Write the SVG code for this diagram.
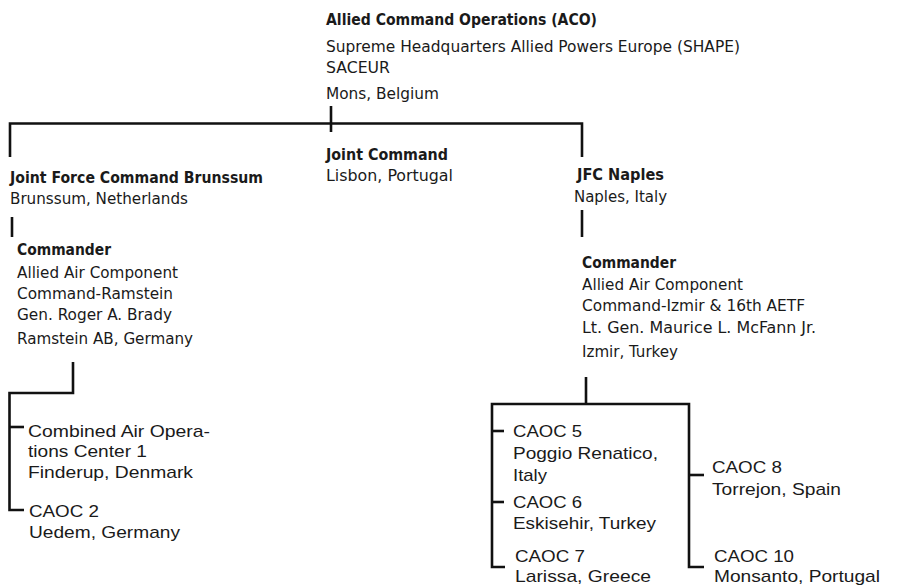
<svg xmlns="http://www.w3.org/2000/svg" width="910" height="585" viewBox="0 0 910 585">
<style>
  .c { font-family: "Liberation Sans Narrow", "DejaVu Sans Condensed", "Liberation Sans", sans-serif; font-size: 15px; fill: #1a1a1a; }
  .b { font-weight: bold; }
  .w { font-family: "Liberation Sans", Arial, sans-serif; font-size: 17px; fill: #1a1a1a; }
  .ln { fill: none; stroke: #111; stroke-width: 2.6; stroke-linecap: butt; stroke-linejoin: miter; }
</style>
<rect width="910" height="585" fill="#ffffff"/>
<g id="connectors" class="ln">
  <path d="M331 106 V132"/>
  <path d="M10 157 V123.5 H582 V157"/>
  <path d="M12 217 V237"/>
  <path d="M582 210 V237"/>
  <path d="M73 362 V393 H9.5 V510 H24"/>
  <path d="M9.5 427 H24"/>
  <path d="M586 377 V404"/>
  <path d="M505 567 H492 V404 H689 V567 H704"/>
  <path d="M492 431 H504"/>
  <path d="M492 502 H504"/>
  <path d="M689 475 H704"/>
</g>
<g id="aco">
  <text class="c b" x="326" y="25" textLength="271" lengthAdjust="spacingAndGlyphs">Allied Command Operations (ACO)</text>
  <text class="c" x="326" y="52" textLength="414" lengthAdjust="spacingAndGlyphs">Supreme Headquarters Allied Powers Europe (SHAPE)</text>
  <text class="c" x="326" y="73" textLength="64" lengthAdjust="spacingAndGlyphs">SACEUR</text>
  <text class="c" x="326" y="99" textLength="113" lengthAdjust="spacingAndGlyphs">Mons, Belgium</text>
</g>
<g id="jfc-brunssum">
  <text class="c b" x="10" y="183" textLength="253" lengthAdjust="spacingAndGlyphs">Joint Force Command Brunssum</text>
  <text class="c" x="10" y="204" textLength="178" lengthAdjust="spacingAndGlyphs">Brunssum, Netherlands</text>
</g>
<g id="joint-command">
  <text class="c b" x="326" y="160" textLength="122" lengthAdjust="spacingAndGlyphs">Joint Command</text>
  <text class="c" x="326" y="181" textLength="127" lengthAdjust="spacingAndGlyphs">Lisbon, Portugal</text>
</g>
<g id="jfc-naples">
  <text class="c b" x="577" y="180" textLength="87" lengthAdjust="spacingAndGlyphs">JFC Naples</text>
  <text class="c" x="574" y="202" textLength="93" lengthAdjust="spacingAndGlyphs">Naples, Italy</text>
</g>
<g id="commander-ramstein">
  <text class="c b" x="17" y="255" textLength="94" lengthAdjust="spacingAndGlyphs">Commander</text>
  <text class="c" x="17" y="278" textLength="161" lengthAdjust="spacingAndGlyphs">Allied Air Component</text>
  <text class="c" x="17" y="299" textLength="156" lengthAdjust="spacingAndGlyphs">Command-Ramstein</text>
  <text class="c" x="17" y="320" textLength="155" lengthAdjust="spacingAndGlyphs">Gen. Roger A. Brady</text>
  <text class="c" x="17" y="344" textLength="176" lengthAdjust="spacingAndGlyphs">Ramstein AB, Germany</text>
</g>
<g id="commander-izmir">
  <text class="c b" x="582" y="268" textLength="94" lengthAdjust="spacingAndGlyphs">Commander</text>
  <text class="c" x="582" y="290" textLength="161" lengthAdjust="spacingAndGlyphs">Allied Air Component</text>
  <text class="c" x="582" y="311" textLength="223" lengthAdjust="spacingAndGlyphs">Command-Izmir &amp; 16th AETF</text>
  <text class="c" x="582" y="333" textLength="234" lengthAdjust="spacingAndGlyphs">Lt. Gen. Maurice L. McFann Jr.</text>
  <text class="c" x="582" y="357" textLength="96" lengthAdjust="spacingAndGlyphs">Izmir, Turkey</text>
</g>
<g id="caoc1">
  <text class="w" x="28" y="437" textLength="182" lengthAdjust="spacingAndGlyphs">Combined Air Opera-</text>
  <text class="w" x="28" y="457" textLength="119" lengthAdjust="spacingAndGlyphs">tions Center 1</text>
  <text class="w" x="28" y="478" textLength="165" lengthAdjust="spacingAndGlyphs">Finderup, Denmark</text>
</g>
<g id="caoc2">
  <text class="w" x="29" y="517" textLength="70" lengthAdjust="spacingAndGlyphs">CAOC 2</text>
  <text class="w" x="29" y="538" textLength="151" lengthAdjust="spacingAndGlyphs">Uedem, Germany</text>
</g>
<g id="caoc5">
  <text class="w" x="513" y="437" textLength="69" lengthAdjust="spacingAndGlyphs">CAOC 5</text>
  <text class="w" x="513" y="459" textLength="145" lengthAdjust="spacingAndGlyphs">Poggio Renatico,</text>
  <text class="w" x="513" y="481" textLength="34" lengthAdjust="spacingAndGlyphs">Italy</text>
</g>
<g id="caoc6">
  <text class="w" x="513" y="508" textLength="69" lengthAdjust="spacingAndGlyphs">CAOC 6</text>
  <text class="w" x="513" y="529" textLength="143" lengthAdjust="spacingAndGlyphs">Eskisehir, Turkey</text>
</g>
<g id="caoc7">
  <text class="w" x="515" y="562" textLength="70" lengthAdjust="spacingAndGlyphs">CAOC 7</text>
  <text class="w" x="515" y="582" textLength="136" lengthAdjust="spacingAndGlyphs">Larissa, Greece</text>
</g>
<g id="caoc8">
  <text class="w" x="712" y="473" textLength="70" lengthAdjust="spacingAndGlyphs">CAOC 8</text>
  <text class="w" x="712" y="495" textLength="129" lengthAdjust="spacingAndGlyphs">Torrejon, Spain</text>
</g>
<g id="caoc10">
  <text class="w" x="714" y="562" textLength="80" lengthAdjust="spacingAndGlyphs">CAOC 10</text>
  <text class="w" x="714" y="582" textLength="166" lengthAdjust="spacingAndGlyphs">Monsanto, Portugal</text>
</g>
</svg>
